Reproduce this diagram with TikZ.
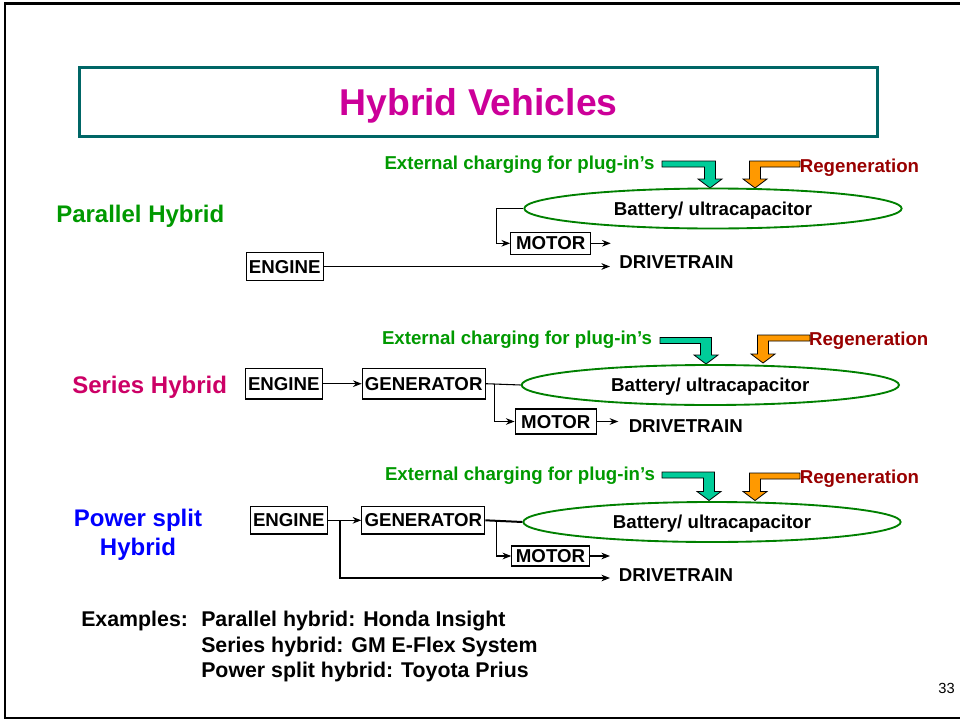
\documentclass[tikz,border=0pt]{standalone}
\usepackage{fontspec}
\setmainfont{Liberation Sans}
\usepackage{tikz}
\usetikzlibrary{shapes.geometric}
\usetikzlibrary{arrows.meta}
\usetikzlibrary{positioning}

\definecolor{titlemag}{RGB}{204,0,153}
\definecolor{frameteal}{RGB}{0,102,102}
\definecolor{labgreen}{RGB}{0,153,0}
\definecolor{batgreen}{RGB}{0,128,0}
\definecolor{regred}{RGB}{153,0,0}
\definecolor{sercrimson}{RGB}{204,0,102}
\definecolor{splitblue}{RGB}{0,0,255}
\definecolor{plugteal}{RGB}{0,204,153}
\definecolor{regorange}{RGB}{255,153,0}

\tikzset{
	txt/.style={inner sep=0pt, text depth=0pt, font=\fontsize{14}{16}\selectfont\bfseries},
	box/.style={txt, draw, line width=0.9pt, inner xsep=2pt},
	battery/.style={txt, ellipse, draw=batgreen, line width=1.4pt, minimum width=283pt, minimum height=30pt},
	kind/.style={inner sep=0pt, text depth=0pt, font=\fontsize{18}{21.75}\selectfont\bfseries},
	example/.style={inner sep=0pt, text depth=0pt, anchor=west, font=\fontsize{16}{19}\selectfont\bfseries},
	flow/.style={line width=0.8pt, -{Stealth[length=6.5pt,width=5pt]}},
	link/.style={line width=0.8pt}
}

% bent block arrow: fill, bar start x, stem x, bar top y, tip y, side
\newcommand{\bentarrow}[6]{%
	\filldraw[fill=#1, draw=black, line width=0.6pt]
	({#2},{#4}) -- ({#3+#6*5.5},{#4}) -- ({#3+#6*5.5},{#5-9}) -- ({#3+#6*12},{#5-9}) -- ({#3},{#5})
	-- ({#3-#6*12},{#5-9}) -- ({#3-#6*5.5},{#5-9}) -- ({#3-#6*5.5},{#4+6}) -- ({#2},{#4+6}) -- cycle;}

\begin{document}
\begin{tikzpicture}[x=0.75pt,y=-0.75pt]
	\useasboundingbox (0,0) rectangle (960,721);
	\draw [line width=2pt] (960,3.5) -- (5,3.5) -- (5,718) -- (960,718);
	\node [draw=frameteal, line width=2.2pt, text depth=0pt, minimum width=598.5pt, minimum height=51.75pt, text=titlemag, font=\fontsize{28}{32}\selectfont\bfseries] (title) at (478.5,102) {Hybrid Vehicles};

	% parallel
	\node [kind, text=labgreen, anchor=west] (par) at (56,214) {Parallel Hybrid};
	\node [txt, text=labgreen] (ext1) at (519.5,163) {External charging for plug-in’s};
	\node [txt, text=regred] (reg1) at (859.5,166) {Regeneration};
	\bentarrow{plugteal}{662}{710}{161}{188}{1}
	\bentarrow{regorange}{800}{755}{161}{188}{-1}
	\node [battery] (bat1) at (713,208.5) {Battery/ ultracapacitor};
	\node [box, minimum height=16.5pt, minimum width=60pt] (mot1) at (550.7,243.3) {MOTOR};
	\node [box, minimum height=21pt] (eng1) at (284.7,266.5) {ENGINE};
	\node [txt] (drv1) at (676.5,262) {DRIVETRAIN};
	\coordinate (mot1out) at (610.7,243.3);
	\coordinate (drv1in) at (610,266.5);
	\draw [flow] (bat1.west) -- ++(-27,0) |- (mot1.west);
	\draw [flow] (mot1.east) -- (mot1out);
	\draw [flow] (eng1.east) -- (drv1in);

	% series
	\node [kind, text=sercrimson, anchor=west] (ser) at (72,385) {Series Hybrid};
	\node [txt, text=labgreen] (ext2) at (517,338) {External charging for plug-in’s};
	\node [txt, text=regred] (reg2) at (868.7,339) {Regeneration};
	\bentarrow{plugteal}{660}{706}{337.5}{364}{1}
	\bentarrow{regorange}{810}{763}{335}{363}{-1}
	\node [battery] (bat2) at (710.3,385) {Battery/ ultracapacitor};
	\node [box, minimum height=23pt] (eng2) at (283.8,383.7) {ENGINE};
	\node [box, minimum height=23pt] (gen2) at (423.7,383.7) {GENERATOR};
	\node [box, minimum height=18.75pt, minimum width=61pt] (mot2) at (555.8,421.5) {MOTOR};
	\node [txt] (drv2) at (685.8,426) {DRIVETRAIN};
	\coordinate (split2) at (494.3,383.7);
	\coordinate (mot2out) at (618.3,421.5);
	\draw [flow] (eng2) -- (gen2);
	\draw [link] (gen2.east) -- (bat2.west);
	\draw [flow] (split2) |- (mot2.west);
	\draw [flow] (mot2.east) -- (mot2out);

	% power split
	\node [kind, text=splitblue, align=center] (split) at (138,532) {Power split\\Hybrid};
	\node [txt, text=labgreen] (ext3) at (520,474) {External charging for plug-in’s};
	\node [txt, text=regred] (reg3) at (859.5,477) {Regeneration};
	\bentarrow{plugteal}{662}{709}{472}{500.5}{1}
	\bentarrow{regorange}{800}{755}{473}{500.5}{-1}
	\node [battery] (bat3) at (712,522) {Battery/ ultracapacitor};
	\node [box, minimum height=20.5pt] (eng3) at (288.8,520.3) {ENGINE};
	\node [box, minimum height=20.5pt] (gen3) at (423.3,520.3) {GENERATOR};
	\node [box, minimum height=15pt, minimum width=58pt] (mot3) at (550.5,556) {MOTOR};
	\node [txt] (drv3) at (676,575) {DRIVETRAIN};
	\coordinate (split3a) at (340,520.3);
	\coordinate (split3b) at (496.7,520.3);
	\coordinate (mot3out) at (610,556);
	\coordinate (drv3in) at (610,578);
	\draw [flow] (eng3) -- (gen3);
	\draw [link, line width=1.5pt] (gen3.east) -- (bat3.west);
	\draw [flow] (split3b) |- (mot3.west);
	\draw [flow] (mot3.east) -- (mot3out);
	\draw [flow] (split3a) |- (drv3in);

	% examples
	\node [example] (exlbl) at (81,619) {Examples:};
	\node [example] (ex1) at (201,619) {Parallel hybrid: Honda Insight};
	\node [example] (ex2) at (201,645) {Series hybrid: GM E-Flex System};
	\node [example] (ex3) at (201,670) {Power split hybrid: Toyota Prius};
	\node [inner sep=0pt, text depth=0pt, anchor=east, font=\fontsize{11}{13}\selectfont] (page) at (955,688.5) {33};
\end{tikzpicture}
\end{document}
